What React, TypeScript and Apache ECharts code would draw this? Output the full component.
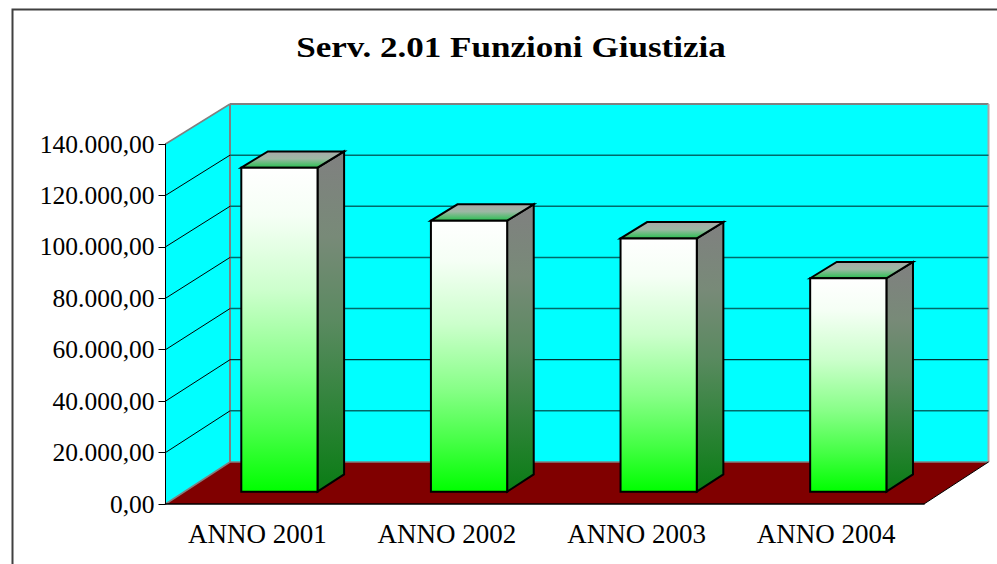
import React, { useEffect, useRef } from "react";
import * as echarts from "echarts";

const titleText = "Serv. 2.01 Funzioni Giustizia";
const categories = ["ANNO 2001", "ANNO 2002", "ANNO 2003", "ANNO 2004"];
const barValues = [126000, 105400, 98500, 83000];
const gridValues = [20000, 40000, 60000, 80000, 100000, 120000];
const axisMax = 140000;
const axisStep = 20000;

const DX = 64.5;
const FONT = '"Liberation Serif", "Times New Roman", serif';

const depthDy = (v: number) => 42 - (2 * v) / axisMax;
const formatValue = (v: number) =>
  String(v).replace(/\B(?=(\d{3})+$)/g, ".") + ",00";

const poly = (points: number[][], style: any, z2 = 0) => ({
  type: "polygon",
  z2,
  shape: { points },
  style,
});
const line = (a: number[], b: number[], stroke: string, lineWidth = 1, z2 = 1) => ({
  type: "line",
  z2,
  shape: { x1: a[0], y1: a[1], x2: b[0], y2: b[1] },
  style: { stroke, lineWidth },
});
const grad = (stops: [number, string][]) => ({
  type: "linear",
  x: 0,
  y: 0,
  x2: 0,
  y2: 1,
  colorStops: stops.map(([offset, color]) => ({ offset, color })),
});

export default function App() {
  const ref = useRef<HTMLDivElement>(null);
  useEffect(() => {
    document.body.style.margin = "0";
    const chart = echarts.init(ref.current!, undefined, { renderer: "svg" });

    const renderWalls = (_: any, api: any) => {
      const band = api.size([1, 0])[0];
      const x0 = api.coord([0, 0])[0] - band / 2;
      const x1 = api.coord([3, 0])[0] + band / 2;
      const y0 = api.coord([0, 0])[1];
      const yT = api.coord([0, axisMax])[1];
      const b0 = y0 - depthDy(0);
      const bT = yT - depthDy(axisMax);
      return {
        type: "group",
        children: [
          poly([[x0, y0], [x0, yT], [x0 + DX, bT], [x0 + DX, b0]], { fill: "#00ffff" }),
          poly([[x0 + DX, bT], [x1 + DX, bT], [x1 + DX, b0], [x0 + DX, b0]], { fill: "#00ffff" }),
          poly([[x0, y0], [x0 + DX, b0], [x1 + DX, b0], [x1, y0]], { fill: "#800000" }),
          line([x0, yT], [x0 + DX, bT], "#808080", 1.5, 3),
          line([x0 + DX, bT], [x1 + DX, bT], "#808080", 2, 3),
          line([x0 + DX, bT], [x0 + DX, b0], "#808080", 2, 3),
          line([x1 + DX, bT], [x1 + DX, b0], "#a8a8a8", 2, 3),
          line([x0, y0], [x0 + DX, b0], "#808080", 1.5, 3),
          line([x0 + DX, b0], [x1 + DX, b0], "#808080", 1.5, 3),
          line([x1, y0], [x1 + DX, b0], "#000000", 1, 3),
        ],
      };
    };

    const renderGrid = (_: any, api: any) => {
      const band = api.size([1, 0])[0];
      const v = api.value(1);
      const x0 = api.coord([0, v])[0] - band / 2;
      const x1 = api.coord([3, v])[0] + band / 2;
      const y = api.coord([0, v])[1];
      const by = y - depthDy(v);
      const back = v === 40000 ? "#000000" : "#006a6a";
      return {
        type: "group",
        children: [
          line([x0, y], [x0 + DX, by], "#000000", 1),
          line([x0 + DX, by], [x1 + DX, by], back, v === 40000 ? 1 : 1.5),
        ],
      };
    };

    const renderBar = (_: any, api: any) => {
      const band = api.size([1, 0])[0];
      const cx = api.coord([api.value(0), 0])[0];
      const v = api.value(1);
      const y0 = api.coord([0, 0])[1];
      const yV = api.coord([0, v])[1];
      const w = band * 0.402;
      const dF = 0.293;
      const dB = 0.705;
      const dy = depthDy(0);
      const shift = 0.2;
      const fx0 = cx - w / 2 + DX * dF + shift;
      const fx1 = cx + w / 2 + DX * dF + shift;
      const bx0 = cx - w / 2 + DX * dB + shift;
      const bx1 = cx + w / 2 + DX * dB + shift;
      const fb = y0 - dy * dF;
      const ft = yV - dy * dF;
      const bb = y0 - dy * dB;
      const bt = yV - dy * dB + 1;
      const stroke = { stroke: "#000000", lineWidth: 2, lineJoin: "miter" };
      return {
        type: "group",
        children: [
          poly(
            [[fx1, fb], [fx1, ft], [bx1, bt], [bx1, bb]],
            {
              fill: grad([
                [0, "#808080"],
                [0.25, "#788a78"],
                [0.5, "#5a8a60"],
                [0.75, "#30843a"],
                [1, "#0a7c14"],
              ]),
              ...stroke,
            },
            1
          ),
          poly(
            [[fx0, ft], [bx0, bt], [bx1, bt], [fx1, ft]],
            { fill: grad([[0, "#a8a8a8"], [0.45, "#9cb8a4"], [1, "#28c050"]]), ...stroke },
            1
          ),
          poly(
            [[fx0, fb], [fx0, ft], [fx1, ft], [fx1, fb]],
            {
              fill: grad([
                [0, "#ffffff"],
                [0.15, "#f5fff5"],
                [0.38, "#ccffcc"],
                [0.62, "#88ff88"],
                [0.82, "#44ff44"],
                [1, "#00ff00"],
              ]),
              ...stroke,
            },
            2
          ),
        ],
      };
    };

    chart.setOption({
      animation: false,
      backgroundColor: "#ffffff",
      graphic: [
        {
          type: "rect",
          shape: { x: 12.5, y: 9.5, width: 1000, height: 600 },
          style: { fill: "none", stroke: "#404040", lineWidth: 2 },
        },
        {
          type: "text",
          x: 511,
          y: 47,
          scaleX: 1.17,
          style: {
            text: titleText,
            font: `bold 30px ${FONT}`,
            fill: "#000000",
            align: "center",
            verticalAlign: "middle",
          },
        },
      ],
      grid: { left: 165.5, right: 73, top: 144, bottom: 60 },
      xAxis: {
        type: "category",
        data: categories,
        z: 5,
        axisLine: { lineStyle: { color: "#000000", width: 1.5 } },
        axisTick: { length: 6, lineStyle: { color: "#000000" } },
        axisLabel: {
          fontFamily: FONT,
          fontSize: 27,
          color: "#000000",
          margin: 16,
          padding: [0, 6, 0, 0],
        },
      },
      yAxis: {
        type: "value",
        min: 0,
        max: axisMax,
        interval: axisStep,
        z: 5,
        axisLine: { show: true, lineStyle: { color: "#000000", width: 1 } },
        axisTick: { show: true, length: 7, lineStyle: { color: "#000000" } },
        axisLabel: { fontFamily: FONT, fontSize: 25.5, color: "#000000", margin: 11, formatter: formatValue },
        splitLine: { show: false },
      },
      series: [
        { type: "custom", z: 1, silent: true, renderItem: renderWalls, data: [[0, axisMax]] },
        {
          type: "custom",
          z: 2,
          silent: true,
          renderItem: renderGrid,
          data: gridValues.map((v) => [0, v]),
        },
        {
          type: "custom",
          z: 3,
          silent: true,
          renderItem: renderBar,
          data: barValues.map((v, i) => [i, v]),
        },
      ],
    });
    return () => chart.dispose();
  }, []);
  return (
    <div
      ref={ref}
      style={{ position: "fixed", left: 0, top: 0, width: 997, height: 564 }}
    />
  );
}
